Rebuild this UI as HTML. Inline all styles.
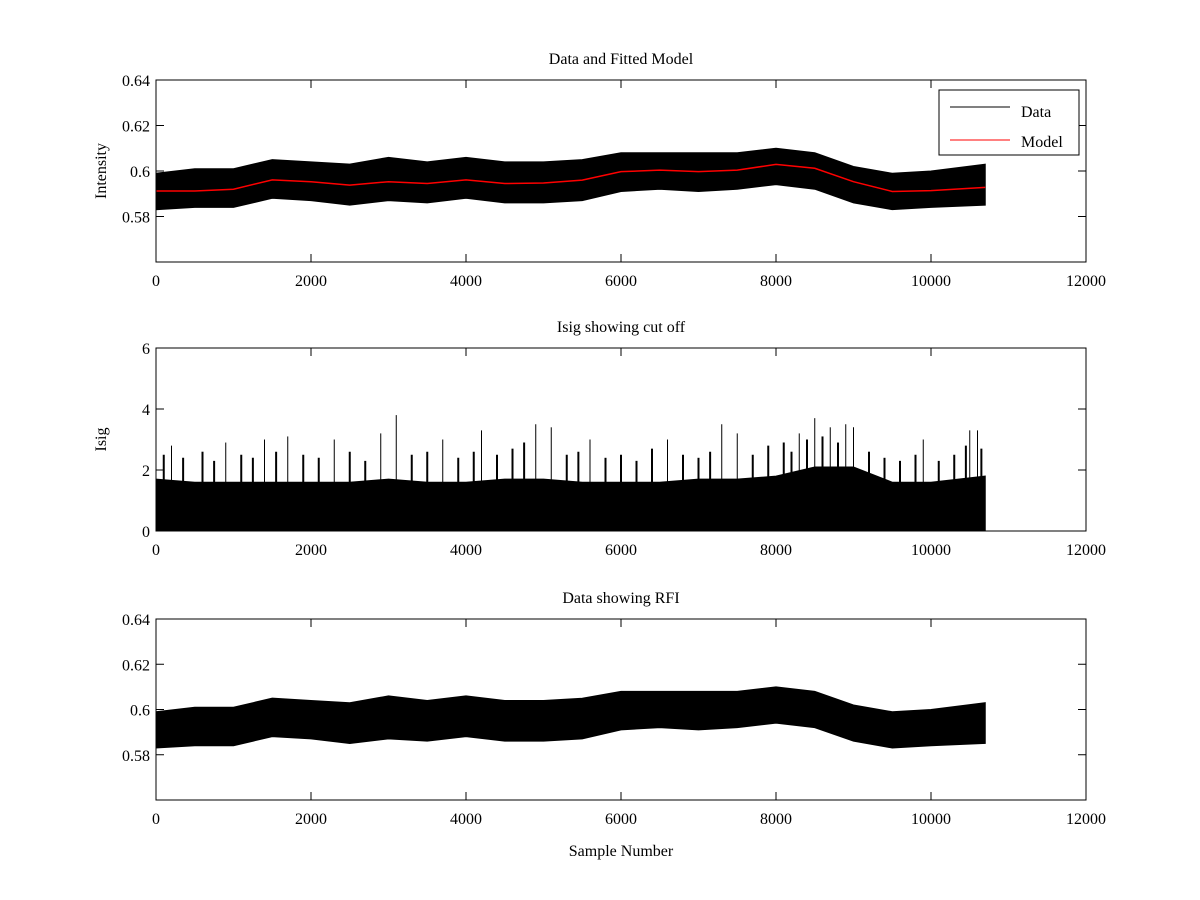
<!DOCTYPE html>
<html><head><meta charset="utf-8"><style>
body{margin:0;background:#fff}
svg{display:block}
text{font-family:"Liberation Serif",serif;font-size:16px;fill:#000}
</style></head><body>
<svg id="fig" width="1200" height="900">
<rect width="1200" height="900" fill="#fff"/>
</svg>
<script>
const samples = [0,500,1000,1500,2000,2500,3000,3500,4000,4500,5000,5500,6000,6500,7000,7500,8000,8500,9000,9500,10000,10700];
const modelVals = [0.5912,0.5912,0.5920,0.5961,0.5953,0.5938,0.5953,0.5945,0.5961,0.5945,0.5947,0.5960,0.5997,0.6004,0.5997,0.6004,0.6029,0.6012,0.5953,0.5910,0.5914,0.5928];
const dataUpper = [0.5990,0.6010,0.6010,0.6050,0.6040,0.6030,0.6060,0.6040,0.6060,0.6040,0.6040,0.6050,0.6080,0.6080,0.6080,0.6080,0.6100,0.6080,0.6020,0.5990,0.6000,0.6030];
const dataLower = [0.5830,0.5840,0.5840,0.5880,0.5870,0.5850,0.5870,0.5860,0.5880,0.5860,0.5860,0.5870,0.5910,0.5920,0.5910,0.5920,0.5940,0.5920,0.5860,0.5830,0.5840,0.5850];
const isigTop = [1.7,1.6,1.6,1.6,1.6,1.6,1.7,1.6,1.6,1.7,1.7,1.6,1.6,1.6,1.7,1.7,1.8,2.1,2.1,1.6,1.6,1.8];
const spikeX = [200,900,1400,1700,2300,2900,3100,3700,4200,4900,5100,5600,6600,7300,7500,8300,8500,8700,8900,9000,9900,10500,10600];
const spikeY = [2.8,2.9,3.0,3.1,3.0,3.2,3.8,3.0,3.3,3.5,3.4,3.0,3.0,3.5,3.2,3.2,3.7,3.4,3.5,3.4,3.0,3.3,3.3];
const midX = [100,350,600,750,1100,1250,1550,1900,2100,2500,2700,3300,3500,3900,4100,4400,4600,4750,5300,5450,5800,6000,6200,6400,6800,7000,7150,7700,7900,8100,8200,8400,8600,8800,9200,9400,9600,9800,10100,10300,10450,10650];
const midY = [2.5,2.4,2.6,2.3,2.5,2.4,2.6,2.5,2.4,2.6,2.3,2.5,2.6,2.4,2.6,2.5,2.7,2.9,2.5,2.6,2.4,2.5,2.3,2.7,2.5,2.4,2.6,2.5,2.8,2.9,2.6,3.0,3.1,2.9,2.6,2.4,2.3,2.5,2.3,2.5,2.8,2.7];
const xTicks = [0,2000,4000,6000,8000,10000,12000];
const yTicksI = [0.58,0.6,0.62,0.64];
const yTicksIsig = [0,2,4,6];

const NS="http://www.w3.org/2000/svg";
const svg=document.getElementById('fig');
function mk(tag,attrs,parent){const e=document.createElementNS(NS,tag);for(const k in attrs)e.setAttribute(k,attrs[k]);(parent||svg).appendChild(e);return e;}
const X0=156,X1=1086;
function xs(v){return X0+(v/12000)*(X1-X0);}
function panel(top,bot,ymin,ymax,name){
  const g=mk('g',{});
  
  
  return {g,ys:v=>bot-(v-ymin)/(ymax-ymin)*(bot-top),top,bot};
}
function frame(p,yt,fmt,title,ylab,xlab){
  const g=p.g;
  mk('rect',{x:X0,y:p.top,width:X1-X0,height:p.bot-p.top,fill:'none',stroke:'#000','stroke-width':1},g);
  xTicks.forEach(t=>{const x=xs(t);
    mk('line',{x1:x,x2:x,y1:p.bot,y2:p.bot-8,stroke:'#000'},g);
    mk('line',{x1:x,x2:x,y1:p.top,y2:p.top+8,stroke:'#000'},g);
    const tx=mk('text',{x:x,y:p.bot+24,'text-anchor':'middle'},g);tx.textContent=t;
    
    });
  yt.forEach(t=>{const y=p.ys(t);
    mk('line',{x1:X0,x2:X0+8,y1:y,y2:y,stroke:'#000'},g);
    mk('line',{x1:X1,x2:X1-8,y1:y,y2:y,stroke:'#000'},g);
    const tx=mk('text',{x:X0-6,y:y+6,'text-anchor':'end'},g);tx.textContent=fmt(t);
    
    });
  const tt=mk('text',{x:(X0+X1)/2,y:p.top-16,'text-anchor':'middle'},g);tt.textContent=title;
  
  
  if(ylab){const yl=mk('text',{x:0,y:0,'text-anchor':'middle',transform:`translate(106,${(p.top+p.bot)/2}) rotate(-90)`},g);yl.textContent=ylab;
    
    }
  if(xlab){const xl=mk('text',{x:(X0+X1)/2,y:p.bot+56,'text-anchor':'middle'},g);xl.textContent=xlab;
    
    }
}
function band(p,upper,lower,name){
  let d='M'+samples.map((s,i)=>xs(s)+','+p.ys(upper[i])).join('L');
  for(let i=samples.length-1;i>=0;i--)d+='L'+xs(samples[i])+','+p.ys(lower[i]);
  const b=mk('path',{d:d+'Z',fill:'#000',stroke:'#000','stroke-width':1},p.g);
  
  
}
const fmtI=t=>t===0.6?'0.6':t.toFixed(2);

// Panel 1
const p1=panel(80,262,0.56,0.64,'data-and-model-panel');
band(p1,dataUpper,dataLower,'data-series');
const ml=mk('polyline',{points:samples.map((s,i)=>xs(s)+','+p1.ys(modelVals[i])).join(' '),fill:'none',stroke:'#f00','stroke-width':1.5},p1.g);


frame(p1,yTicksI,fmtI,'Data and Fitted Model','Intensity',null);
const lg=mk('g',{},p1.g);


mk('rect',{x:939,y:90,width:140,height:65,fill:'#fff',stroke:'#000'},lg);
mk('line',{x1:950,x2:1010,y1:107,y2:107,stroke:'#000'},lg);
const l1=mk('text',{x:1021,y:117},lg);l1.textContent='Data';


mk('line',{x1:950,x2:1010,y1:140,y2:140,stroke:'#f00'},lg);
const l2=mk('text',{x:1021,y:147},lg);l2.textContent='Model';



// Panel 2
const p2=panel(348,531,0,6,'isig-panel');
band(p2,isigTop,samples.map(()=>0),'isig-series');
midX.forEach((s,i)=>{const l=mk('line',{x1:xs(s),x2:xs(s),y1:p2.ys(0),y2:p2.ys(midY[i]),stroke:'#000','stroke-width':2},p2.g);
  
  });
spikeX.forEach((s,i)=>{const l=mk('line',{x1:xs(s),x2:xs(s),y1:p2.ys(0),y2:p2.ys(spikeY[i]),stroke:'#000','stroke-width':1},p2.g);
  
  });
frame(p2,yTicksIsig,t=>String(t),'Isig showing cut off','Isig',null);

// Panel 3
const p3=panel(619,800,0.56,0.64,'rfi-panel');
band(p3,dataUpper,dataLower,'rfi-data-series');
frame(p3,yTicksI,fmtI,'Data showing RFI',null,'Sample Number');
</script>
</body></html>
